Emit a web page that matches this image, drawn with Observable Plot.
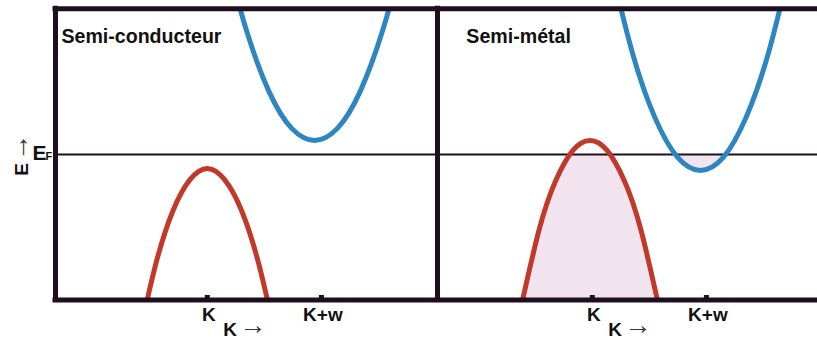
<!DOCTYPE html>
<html><head><meta charset="utf-8">
<script src="https://cdn.jsdelivr.net/npm/d3@7"></script>
<script src="https://cdn.jsdelivr.net/npm/@observablehq/plot@0.6"></script>
<style>body{margin:0;background:#fff;overflow:hidden}</style>
</head><body><div id="chart"></div>
<script>
// ---- data (k in units of w relative to K of each panel, E relative to E_F) ----
const panels = ["Semi-conducteur", "Semi-métal"];
const tickKs = [0, 1];
const tickLabels = ["K", "K+w"];
const axisLabel = "K";
const arrowLabel = "→";
const energyLabel = "E";
const fermiLabel = "E";
const fermiSub = "F";

// Semi-conducteur bands
const valenceSC = [[-0.6,-1.83],[-0.45,-1.09],[-0.3,-0.56],[-0.15,-0.25],[0,-0.14],[0.15,-0.25],[0.3,-0.56],[0.45,-1.09],[0.6,-1.83]];
const conductionSC = [[0.19,1.88],[0.34,1.25],[0.54,0.63],[0.74,0.26],[0.94,0.14],[1.14,0.26],[1.34,0.63],[1.54,1.25],[1.69,1.88]];
// Semi-métal bands
const valenceSM = [[-0.67,-1.76],[-0.47,-0.77],[-0.32,-0.26],[-0.17,0.04],[-0.02,0.14],[0.13,0.04],[0.28,-0.26],[0.43,-0.77],[0.63,-1.76]];
const conductionSM = [[0.148,1.95],[0.348,1.03],[0.548,0.37],[0.748,-0.03],[0.948,-0.16],[1.148,-0.03],[1.348,0.37],[1.548,1.03],[1.748,1.95]];

// ---- layout constants ----
const shift = {"Semi-conducteur": 0, "Semi-métal": 3.374};
const xLeft = -1.3304, xDivider = 2.0174, xRight = 5.3478;
const yBot = -1.455, yTop = 1.455, EF = 0;
const frameColor = "#1f0e1f", red = "#c0392b", blue = "#2e86c1", pink = "#f2e4ef", ink = "#111";

const rows = (pts, panel) => pts.map(([k, E]) => ({panel, k, E, x: k + shift[panel]}));
const vSC = rows(valenceSC, panels[0]), cSC = rows(conductionSC, panels[0]);
const vSM = rows(valenceSM, panels[1]), cSM = rows(conductionSM, panels[1]);

const tickRows = panels.flatMap(p => tickKs.map((k, i) => ({panel: p, x: k + shift[p], label: tickLabels[i]})));
const axisRows = panels.map(p => ({panel: p, x: 0 + shift[p]}));
const titleRows = [{text: panels[0], x: xLeft + 0.052}, {text: panels[1], x: xDivider + 0.253}];

const bold = {fontWeight: "bold", fill: ink};
const arrowStyle = {fontWeight: "normal", fontSize: 27, fill: "#333"};

const svg = Plot.plot({
  width: 817, height: 340,
  marginLeft: 55, marginRight: 0, marginTop: 8.3, marginBottom: 40.5,
  x: {domain: [xLeft, xRight], axis: null},
  y: {domain: [yBot, yTop], axis: null},
  style: {fontFamily: "Liberation Sans, Arial, sans-serif", background: "white"},
  marks: [
    Plot.areaY(vSM, {x: "x", y1: yBot, y2: "E", curve: "natural", fill: pink}),
    Plot.areaY(cSM, {x: "x", y1: "E", y2: yTop, curve: "natural", fill: pink}),
    Plot.ruleY([EF], {x1: xLeft, x2: xRight, stroke: frameColor, strokeWidth: 2}),
    Plot.line(vSC, {x: "x", y: "E", curve: "natural", stroke: red, strokeWidth: 5, clip: true}),
    Plot.line(cSC, {x: "x", y: "E", curve: "natural", stroke: blue, strokeWidth: 5, clip: true}),
    Plot.line(vSM, {x: "x", y: "E", curve: "natural", stroke: red, strokeWidth: 5, clip: true}),
    Plot.line(cSM, {x: "x", y: "E", curve: "natural", stroke: blue, strokeWidth: 5, clip: true}),
    Plot.ruleY([yTop, yBot], {x1: xLeft, x2: xRight, stroke: frameColor, strokeWidth: 5, strokeLinecap: "square"}),
    Plot.ruleX([xLeft, xDivider], {y1: yBot, y2: yTop, stroke: frameColor, strokeWidth: 5, strokeLinecap: "square"}),
    Plot.ruleX(tickRows, {x: "x", y1: yBot, y2: yBot + 0.045, stroke: frameColor, strokeWidth: 5}),
    Plot.text(titleRows, {x: "x", y: yTop, text: "text", textAnchor: "start", lineAnchor: "bottom", dy: 33.7, fontSize: 19.6, ...bold}),
    Plot.text(tickRows, {x: "x", y: yBot, text: "label", textAnchor: "middle", lineAnchor: "bottom", dx: 1.5, dy: 20.5, fontSize: 19, ...bold}),
    Plot.text(axisRows, {x: "x", y: yBot, text: () => axisLabel, textAnchor: "start", lineAnchor: "bottom", dx: 16, dy: 35.5, fontSize: 19, ...bold}),
    Plot.text(axisRows, {x: "x", y: yBot, text: () => arrowLabel, textAnchor: "start", lineAnchor: "bottom", dx: 32, dy: 34.3, ...arrowStyle}),
    Plot.text([energyLabel], {x: xLeft, y: -0.15, text: d => d, rotate: -90, textAnchor: "middle", lineAnchor: "bottom", dx: -28, fontSize: 19, ...bold}),
    Plot.text([arrowLabel], {x: xLeft, y: -0.067, text: d => d, rotate: -90, textAnchor: "start", lineAnchor: "bottom", dx: -27.8, ...arrowStyle}),
    Plot.text([fermiLabel], {x: xLeft, y: EF, text: d => d, textAnchor: "start", lineAnchor: "bottom", dx: -23, dy: 6, fontSize: 21, ...bold}),
    Plot.text([fermiSub], {x: xLeft, y: EF, text: d => d, textAnchor: "start", lineAnchor: "bottom", dx: -10, dy: 6, fontSize: 11, ...bold})
  ]
});

// clip the pink fills to the region below E_F
const xs = svg.scale("x"), ys = svg.scale("y");
const s = d3.select(svg);
s.insert("defs", ":first-child").append("clipPath").attr("id", "belowEF")
  .append("rect")
  .attr("x", xs.apply(xLeft)).attr("y", ys.apply(EF))
  .attr("width", xs.apply(xRight) - xs.apply(xLeft))
  .attr("height", ys.apply(yBot) - ys.apply(EF));
s.selectAll('g[aria-label="area"]').attr("clip-path", "url(#belowEF)");

document.getElementById("chart").appendChild(svg);
</script>
</body></html>
